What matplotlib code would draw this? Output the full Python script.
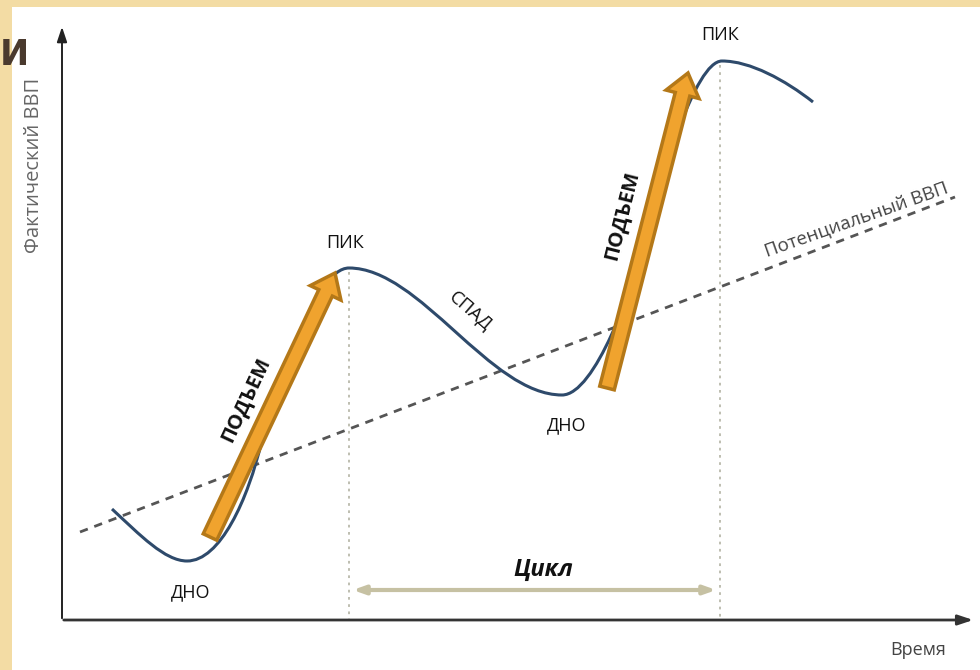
import matplotlib.pyplot as plt
from matplotlib.patches import Rectangle, FancyArrow, PathPatch
from matplotlib.path import Path

plt.rcParams['font.family'] = ['Open Sans', 'DejaVu Sans']

# actual GDP curve, read off the picture (pixel coords, y down):
# anchor points (start, trough, inflection, peak, trough, inflection, peak, end)
# with bezier control points between them
gdp_nodes = [(112, 509), (187, 561), (262, 440), (349, 268),
             (562, 395), (645, 240), (722, 61), (813, 102)]
gdp_ctrl = [((140, 535), (165, 561)),
            ((220, 561), (248, 500)),
            ((285, 380), (315, 268)),
            ((420, 268), (490, 395)),
            ((595, 395), (633, 287)),
            ((660, 180), (695, 61)),
            ((750, 61), (785, 80))]

# potential GDP trend line
trend_x = [80, 955]
trend_y = [532, 197]

# peaks (vertical markers) and time axis level
peak_x = [349, 720]
peak_y = [268, 61]
axis_y = 620

# growth arrows: tail -> tip
rise_tail = [(210, 537), (607, 388)]
rise_tip = [(335, 273), (688, 73)]

fig = plt.figure(figsize=(9.8, 6.7), dpi=100)
fig.patch.set_facecolor('#F3DCA4')
ax = fig.add_axes([0, 0, 1, 1])
ax.set_xlim(0, 980)
ax.set_ylim(670, 0)
ax.axis('off')

# white slide panel
ax.add_patch(Rectangle((12, 7), 970, 665, fc='white', ec='none', zorder=0))
ax.text(0, 55, 'И', fontsize=25, fontweight='bold', color='#4A3A2E',
        family='DejaVu Sans', ha='left', va='center', zorder=5)

# axes with arrow heads
ax.annotate('', xy=(62, 24), xytext=(62, axis_y + 1),
            arrowprops=dict(arrowstyle='-|>,head_length=0.9,head_width=0.3',
                            color='#222222', lw=1.4))
ax.annotate('', xy=(976, axis_y), xytext=(61, axis_y),
            arrowprops=dict(arrowstyle='-|>,head_length=0.9,head_width=0.3',
                            color='#333333', lw=2.0))
ax.text(34, 165, 'Фактический ВВП', rotation=90, fontsize=14.5, color='#666666',
        ha='center', va='center')
ax.text(918, 650, 'Время', fontsize=13, color='#444444', ha='center', va='center')

# vertical dotted lines at peaks
for px, py in zip(peak_x, peak_y):
    ax.plot([px, px], [py + 4, axis_y - 1], color='#B9B9AA', lw=1.3,
            ls=(0, (1.5, 2.5)), zorder=1)

# trend line
ax.plot(trend_x, trend_y, color='#555555', lw=2, ls=(0, (3, 2.5)), zorder=2)
ax.text(856, 219, 'Потенциальный ВВП', rotation=19.5, fontsize=13.5,
        color='#444444', ha='center', va='center', rotation_mode='anchor')

# actual GDP curve
verts = [gdp_nodes[0]]
codes = [Path.MOVETO]
for (c1, c2), node in zip(gdp_ctrl, gdp_nodes[1:]):
    verts += [c1, c2, node]
    codes += [Path.CURVE4] * 3
ax.add_patch(PathPatch(Path(verts, codes), fc='none', ec='#2E4A6B', lw=2.2,
                       zorder=3))

# orange arrows
for (tx, ty), (hx, hy) in zip(rise_tail, rise_tip):
    ax.add_patch(FancyArrow(tx, ty, hx - tx, hy - ty, width=15, head_width=34,
                            head_length=22, length_includes_head=True,
                            fc='#F0A32E', ec='#B47818', lw=2.5, zorder=4))

# labels
lbl = dict(fontsize=13, color='#111111', ha='center', va='center')
ax.text(345, 243, 'ПИК', **lbl)
ax.text(720, 35, 'ПИК', **lbl)
ax.text(191, 592, 'ДНО', **lbl)
ax.text(567, 425, 'ДНО', **lbl)
ax.text(471, 311, 'СПАД', rotation=-41, fontsize=13.5, color='#111111',
        ha='center', va='center', rotation_mode='anchor')
ax.text(246, 400, 'ПОДЪЕМ', rotation=65, fontsize=14.5, fontweight='bold',
        color='#111111', ha='center', va='center', rotation_mode='anchor')
ax.text(622, 215, 'ПОДЪЕМ', rotation=76, fontsize=14.5, fontweight='bold',
        color='#111111', ha='center', va='center', rotation_mode='anchor')

# cycle span
ax.annotate('', xy=(peak_x[0] + 1, 590), xytext=(peak_x[1] - 1, 590),
            arrowprops=dict(arrowstyle='<|-|>,head_length=0.7,head_width=0.25',
                            color='#C6C1A3', lw=3))
ax.text(543, 570, 'Цикл', fontsize=17, fontweight='bold', fontstyle='italic',
        color='#111111', ha='center', va='center')

fig.savefig('out.png', dpi=100, facecolor=fig.get_facecolor())
